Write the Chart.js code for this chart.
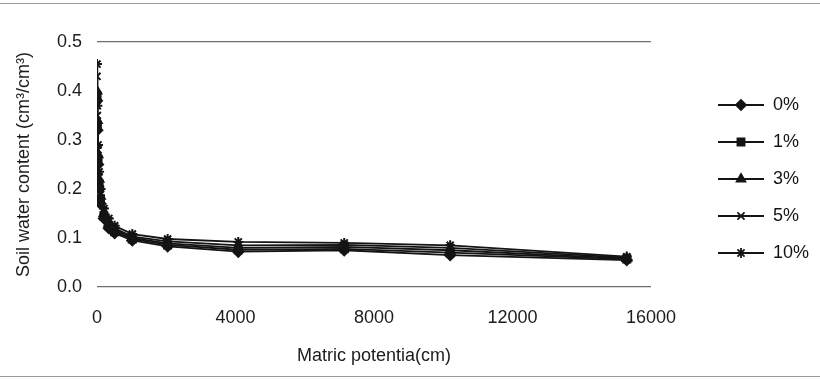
<!DOCTYPE html>
<html>
<head>
<meta charset="utf-8">
<script src="https://cdn.jsdelivr.net/npm/chart.js@4"></script>
<style>
  html, body { margin: 0; padding: 0; background: #fff; }
  #wrap { width: 820px; height: 379px; }
</style>
</head>
<body>
<div id="wrap"><canvas id="curveChart" width="820" height="379"></canvas></div>
<script>
// Soil water retention data (matric potential in cm)
const potential = [0, 10, 30, 60, 100, 200, 340, 510, 1020, 2040, 4080, 7140, 10200, 15300];

const water0 = [0.38, 0.32, 0.25, 0.20, 0.17, 0.140, 0.120, 0.110, 0.095, 0.083, 0.072, 0.075, 0.065, 0.055];
const water1 = [0.39, 0.33, 0.26, 0.21, 0.18, 0.145, 0.125, 0.113, 0.098, 0.086, 0.076, 0.078, 0.070, 0.057];
const water3 = [0.40, 0.34, 0.27, 0.22, 0.185, 0.150, 0.130, 0.117, 0.100, 0.089, 0.080, 0.082, 0.075, 0.058];
const water5 = [0.43, 0.35, 0.28, 0.225, 0.19, 0.155, 0.135, 0.120, 0.103, 0.093, 0.085, 0.086, 0.080, 0.060];
const water10 = [0.455, 0.37, 0.29, 0.235, 0.20, 0.160, 0.140, 0.125, 0.108, 0.098, 0.092, 0.090, 0.085, 0.062];

const seriesLabels = ['0%', '1%', '3%', '5%', '10%'];
const seriesValues = [water0, water1, water3, water5, water10];
const seriesMarkers = ['rectRot', 'rect', 'triangle', 'crossRot', 'star'];

const xTicks = [0, 4000, 8000, 12000, 16000];
const yTicks = [0, 0.1, 0.2, 0.3, 0.4, 0.5];

const ink = '#141414';
const fontFamily = '"Liberation Sans", Arial, sans-serif';

const datasets = seriesValues.map((vals, i) => ({
  label: seriesLabels[i],
  data: vals.map((y, j) => ({ x: potential[j], y })),
  borderColor: ink,
  backgroundColor: ink,
  borderWidth: 1.8,
  pointStyle: seriesMarkers[i],
  pointRadius: 5,
  pointBorderWidth: 2,
  pointBackgroundColor: ink,
  pointBorderColor: ink,
  tension: 0
}));

// legend drawn with the same marker styles as the series
const sideLegend = {
  id: 'sideLegend',
  afterDraw(chart) {
    const ctx = chart.ctx;
    const startY = 105, gap = 37;
    ctx.save();
    chart.data.datasets.forEach((ds, i) => {
      const y = startY + i * gap;
      ctx.strokeStyle = ink;
      ctx.fillStyle = ink;
      ctx.lineWidth = 1.8;
      ctx.beginPath();
      ctx.moveTo(718, y);
      ctx.lineTo(764, y);
      ctx.stroke();
      Chart.helpers.drawPoint(ctx, {
        pointStyle: ds.pointStyle, radius: 5, borderWidth: 2, rotation: 0
      }, 741, y);
      ctx.font = '18px ' + fontFamily;
      ctx.textBaseline = 'middle';
      ctx.textAlign = 'left';
      ctx.fillText(ds.label, 773, y);
    });
    ctx.restore();
  }
};

// faint frame lines at top and bottom of the figure
const frameLines = {
  id: 'frameLines',
  beforeDraw(chart) {
    const ctx = chart.ctx;
    ctx.save();
    ctx.strokeStyle = '#9a9a9a';
    ctx.lineWidth = 1;
    ctx.beginPath();
    ctx.moveTo(0, 3.5); ctx.lineTo(820, 3.5);
    ctx.moveTo(0, 376.5); ctx.lineTo(820, 376.5);
    ctx.stroke();
    ctx.restore();
  }
};

new Chart(document.getElementById('curveChart').getContext('2d'), {
  type: 'line',
  data: { datasets },
  options: {
    responsive: false,
    animation: false,
    layout: { padding: { left: 0, right: 169, top: 42, bottom: 0 } },
    plugins: {
      legend: { display: false },
      tooltip: { enabled: false }
    },
    scales: {
      x: {
        type: 'linear',
        min: xTicks[0],
        max: xTicks[xTicks.length - 1],
        afterFit: (scale) => { scale.height = 92; },
        afterBuildTicks: (scale) => { scale.ticks = xTicks.map(v => ({ value: v })); },
        grid: { display: false, drawTicks: false },
        border: { display: false },
        ticks: {
          padding: 20,
          color: '#1c1c1c',
          font: { family: fontFamily, size: 18 },
          callback: (v) => String(v)
        },
        title: {
          display: true,
          text: 'Matric potentia(cm)',
          color: '#1c1c1c',
          font: { family: fontFamily, size: 18 },
          padding: { top: 0, bottom: 12 }
        }
      },
      y: {
        min: 0,
        max: 0.5,
        afterFit: (scale) => { scale.width = 97; },
        afterBuildTicks: (scale) => { scale.ticks = yTicks.map(v => ({ value: v })); },
        grid: {
          drawTicks: false,
          lineWidth: 1.2,
          color: (c) => (c.tick && (c.tick.value === 0 || Math.abs(c.tick.value - 0.5) < 1e-9)) ? '#6e6e6e' : 'rgba(0,0,0,0)'
        },
        border: { display: false },
        ticks: {
          padding: 15,
          color: '#1c1c1c',
          font: { family: fontFamily, size: 18 },
          callback: (v) => Number(v).toFixed(1)
        },
        title: {
          display: true,
          text: 'Soil water content (cm³/cm³)',
          color: '#1c1c1c',
          font: { family: fontFamily, size: 18 },
          padding: { top: 13, bottom: 0 }
        }
      }
    }
  },
  plugins: [frameLines, sideLegend]
});
</script>
</body>
</html>
